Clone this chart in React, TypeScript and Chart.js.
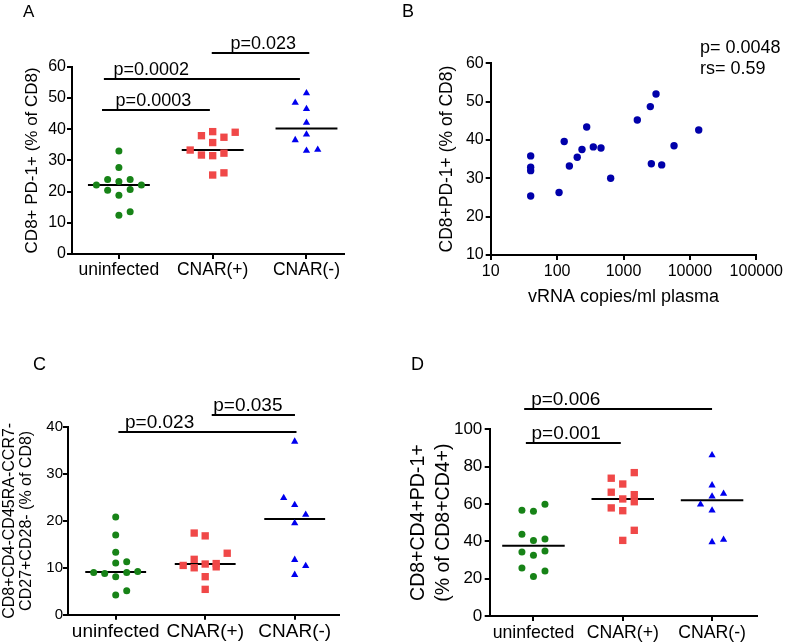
import React, { useEffect, useRef } from 'react';
import { Chart, registerables } from 'chart.js';

Chart.register(...registerables);

const W = 788;
const H = 644;
const FONT = '"Liberation Sans", Arial, Helvetica, sans-serif';

// ---------- shared ----------
const categories = ['uninfected', 'CNAR(+)', 'CNAR(-)'];

// ---------- panel A: CD8+ PD-1+ (% of CD8) ----------
const aUninfected = [33.0, 27.7, 23.9, 23.9, 23.2, 22.1, 22.1, 20.4, 20.7, 18.8, 12.4, 13.5];
const aUninfectedCol = [0, 0, -1, 1, 0, -2, 2, -1, 1, 0, 0, 1];
const aCnarPos = [37.9, 39.2, 37.4, 39.0, 35.7, 33.3, 31.7, 31.5, 32.3, 25.3, 26.0];
const aCnarPosCol = [-1, 0, 1, 2, 0, -2, -1, 0, 1, 0, 1];
const aCnarNeg = [51.5, 48.5, 46.5, 42.1, 38.3, 36.5, 33.1, 33.4];
const aCnarNegCol = [0, -1, 0, 0, 0, -1, 0, 1];
const aYTicks = { max: 60, step: 10 };
const aBrackets = [
  { from: -0.18, to: 0.97, y: 46.0, label: 'p=0.0003', labelAt: -0.035 },
  { from: -0.16, to: 1.93, y: 56.2, label: 'p=0.0002', labelAt: -0.057 },
  { from: 0.99, to: 2.03, y: 64.3, label: 'p=0.023', labelAt: 1.19 },
];

// ---------- panel B: correlation ----------
const bCopies = [40, 40, 40, 40, 107, 128, 153, 201, 237, 279, 351, 458, 641, 1614, 2535, 3090, 2625, 3760, 5770, 13580];
const bPd1 = [35.85, 32.9, 32.0, 25.4, 26.3, 39.6, 33.2, 35.5, 37.5, 43.4, 38.2, 37.9, 30.0, 45.2, 48.7, 52.0, 33.8, 33.5, 38.5, 42.6];
const bXTicks = [10, 100, 1000, 10000, 100000];
const bStats = ['p= 0.0048', 'rs= 0.59'];

// ---------- panel C: effector memory ----------
const cUninfected = [20.8, 17.0, 13.3, 11.0, 11.3, 9.0, 8.8, 8.1, 9.0, 9.2, 4.2, 5.1];
const cUninfectedCol = [0, 0, 0, 0, 1, -2, -1, 0, 1, 2, 0, 1];
const cCnarPos = [17.4, 16.8, 13.1, 11.8, 10.5, 10.0, 10.8, 10.9, 10.2, 8.1, 5.4];
const cCnarPosCol = [-1, 0, 2, -1, -2, -1, 0, 1, 1, 0, 0];
const cCnarNeg = [36.9, 24.9, 23.4, 21.3, 19.5, 11.7, 10.4, 8.5];
const cCnarNegCol = [0, -1, 0, 1, 0, 0, 1, 0];
const cYTicks = { max: 40, step: 10 };
const cBrackets = [
  { from: 0.03, to: 2.02, y: 38.9, label: 'p=0.023', labelAt: 0.104 },
  { from: 1.073, to: 2.003, y: 42.6, label: 'p=0.035', labelAt: 1.09 },
];

// ---------- panel D: CD8+CD4+PD-1+ ----------
const dUninfected = [56.6, 56.1, 59.8, 43.8, 40.5, 41.3, 34.3, 32.5, 34.8, 25.7, 24.1, 21.1];
const dUninfectedCol = [-1, 0, 1, -1, 0, 1, -1, 0, 1, -1, 1, 0];
const dCnarPos = [76.8, 73.8, 70.7, 66.3, 65.0, 62.7, 61.2, 57.9, 56.4, 45.9, 40.5];
const dCnarPosCol = [1, -1, 0, -1, 1, 0, 1, -1, 0, 1, 0];
const dCnarNeg = [86.1, 70.0, 64.1, 65.5, 59.8, 56.6, 39.6, 40.9];
const dCnarNegCol = [0, 0, 0, 1, -1, 0, 0, 1];
const dYTicks = { max: 100, step: 20 };
const dBrackets = [
  { from: -0.085, to: 0.978, y: 92.8, label: 'p=0.001', labelAt: -0.022 },
  { from: -0.104, to: 2.0, y: 110.7, label: 'p=0.006', labelAt: -0.026 },
];

// ---------- styles ----------
const GREEN = '#178317';
const RED = '#f04848';
const BLUE = '#0000ee';
const NAVY = '#0000aa';
const TICK_LEN = 5;

function median(v: number[]) {
  const s = [...v].sort((a, b) => a - b);
  const n = s.length;
  return n % 2 ? s[(n - 1) / 2] : (s[n / 2 - 1] + s[n / 2]) / 2;
}

function axisCommon() {
  return {
    grid: { drawOnChartArea: false, drawTicks: true, tickLength: TICK_LEN, color: '#000', lineWidth: 2 },
    border: { display: true, color: '#000', width: 2 },
  };
}

function textPlugin(draw: (chart: any, ctx: CanvasRenderingContext2D) => void) {
  return {
    id: 'annot',
    afterDraw(chart: any) {
      const ctx = chart.ctx;
      ctx.save();
      ctx.fillStyle = '#000';
      ctx.strokeStyle = '#000';
      draw(chart, ctx);
      ctx.restore();
    },
  };
}

function dotConfig(p: any) {
  const { area, panelLeft, xH } = p;
  const datasets: any[] = [];
  p.groups.forEach((g: any, i: number) => {
    datasets.push({
      data: g.values.map((v: number, k: number) => ({ x: i + g.cols[k] * p.jitter, y: v })),
      pointStyle: g.style,
      pointRadius: g.radius,
      backgroundColor: g.color,
      borderWidth: 0,
      clip: false,
    });
    const m = median(g.values);
    datasets.push({
      data: [{ x: i - p.medianHalf, y: m }, { x: i + p.medianHalf, y: m }],
      showLine: true,
      borderColor: '#000',
      borderWidth: 2,
      pointRadius: 0,
      clip: false,
    });
  });
  const yW = area.l - panelLeft;
  return {
    type: 'scatter',
    data: { datasets },
    plugins: [
      textPlugin((chart, ctx) => {
        const xs = chart.scales.x;
        const ys = chart.scales.y;
        ctx.lineWidth = 2;
        ctx.font = `${p.bracketSize}px ${FONT}`;
        ctx.textAlign = 'left';
        ctx.textBaseline = 'alphabetic';
        p.brackets.forEach((b: any) => {
          const y = Math.round(ys.getPixelForValue(b.y));
          ctx.beginPath();
          ctx.moveTo(xs.getPixelForValue(b.from), y);
          ctx.lineTo(xs.getPixelForValue(b.to), y);
          ctx.stroke();
          ctx.fillText(b.label, xs.getPixelForValue(b.labelAt), y - 4);
        });
        ctx.font = `${p.letterSize}px ${FONT}`;
        ctx.fillText(p.letter, p.letterX, p.letterY);
      }),
    ],
    options: {
      animation: false,
      responsive: false,
      devicePixelRatio: 1,
      events: [],
      layout: { padding: { left: panelLeft, top: area.t, right: W - area.r, bottom: H - area.b - xH } },
      plugins: { legend: { display: false }, tooltip: { enabled: false } },
      scales: {
        x: {
          type: 'linear',
          min: p.xMin,
          max: p.xMax,
          ...axisCommon(),
          afterBuildTicks: (s: any) => {
            s.ticks = categories.map((_, i) => ({ value: i }));
          },
          afterFit: (s: any) => {
            s.height = xH;
          },
          ticks: {
            callback: (v: number) => categories[v],
            font: { family: FONT, size: p.xTickSize },
            color: '#000',
            padding: p.xTickPad,
            maxRotation: 0,
            autoSkip: false,
          },
        },
        y: {
          type: 'linear',
          min: 0,
          max: p.yMax,
          ...axisCommon(),
          afterFit: (s: any) => {
            s.width = yW;
          },
          ticks: {
            stepSize: p.yStep,
            font: { family: FONT, size: p.yTickSize },
            color: '#000',
            padding: p.yTickPad,
          },
          title: {
            display: true,
            text: p.yTitle,
            color: '#000',
            font: { family: FONT, size: p.yTitleSize, lineHeight: p.yTitleLH },
            padding: { top: p.yTitleFirstCenter - panelLeft - (p.yTitleSize * p.yTitleLH) / 2, bottom: 0 },
          },
        },
      },
    },
  };
}

function scatterConfig() {
  const area = { l: 490.7, t: 63.3, r: 756.3, b: 255 };
  const panelLeft = 394;
  const xH = 60;
  return {
    type: 'scatter',
    data: {
      datasets: [
        {
          data: bCopies.map((c, i) => ({ x: c, y: bPd1[i] })),
          pointStyle: 'circle',
          pointRadius: 3.7,
          backgroundColor: NAVY,
          borderWidth: 0,
          clip: false,
        },
      ],
    },
    plugins: [
      textPlugin((chart, ctx) => {
        ctx.font = `18px ${FONT}`;
        ctx.textAlign = 'left';
        ctx.textBaseline = 'alphabetic';
        ctx.fillText(bStats[0], 700, 53.3);
        ctx.fillText(bStats[1], 700, 74.3);
        ctx.fillText('B', 402, 17);
      }),
    ],
    options: {
      animation: false,
      responsive: false,
      devicePixelRatio: 1,
      events: [],
      layout: { padding: { left: panelLeft, top: area.t, right: W - area.r, bottom: H - area.b - xH } },
      plugins: { legend: { display: false }, tooltip: { enabled: false } },
      scales: {
        x: {
          type: 'logarithmic',
          min: 10,
          max: 100000,
          ...axisCommon(),
          afterBuildTicks: (s: any) => {
            s.ticks = bXTicks.map((v) => ({ value: v }));
          },
          afterFit: (s: any) => {
            s.height = xH;
          },
          ticks: {
            callback: (v: number) => String(v),
            font: { family: FONT, size: 16 },
            color: '#000',
            padding: 2,
            maxRotation: 0,
            autoSkip: false,
          },
          title: {
            display: true,
            text: 'vRNA copies/ml plasma',
            color: '#000',
            font: { family: FONT, size: 18 },
            padding: { top: 0, bottom: area.b + xH - 296.7 - 10.8 },
          },
        },
        y: {
          type: 'linear',
          min: 10,
          max: 60,
          ...axisCommon(),
          afterFit: (s: any) => {
            s.width = area.l - panelLeft;
          },
          ticks: { stepSize: 10, font: { family: FONT, size: 16 }, color: '#000', padding: 2 },
          title: {
            display: true,
            text: 'CD8+PD-1+ (% of CD8)',
            color: '#000',
            font: { family: FONT, size: 17.5 },
            padding: { top: 447.3 - panelLeft - 10.5, bottom: 0 },
          },
        },
      },
    },
  };
}

const configs = [
  () =>
    dotConfig({
      groups: [
        { values: aUninfected, cols: aUninfectedCol, style: 'circle', color: GREEN, radius: 3.5 },
        { values: aCnarPos, cols: aCnarPosCol, style: 'rect', color: RED, radius: 5.2 },
        { values: aCnarNeg, cols: aCnarNegCol, style: 'triangle', color: BLUE, radius: 4.2 },
      ],
      area: { l: 72, t: 66.7, r: 344, b: 254 },
      panelLeft: 0,
      xH: 40,
      xMin: -0.5,
      xMax: 2.4,
      yMax: aYTicks.max,
      yStep: aYTicks.step,
      jitter: 0.12,
      medianHalf: 0.33,
      yTitle: 'CD8+ PD-1+ (% of CD8)',
      yTitleSize: 17,
      yTitleLH: 1.2,
      yTitleFirstCenter: 32,
      yTickSize: 16,
      yTickPad: 1,
      xTickSize: 17.5,
      xTickPad: 1,
      brackets: aBrackets,
      bracketSize: 18,
      letter: 'A',
      letterSize: 17,
      letterX: 23,
      letterY: 17,
    }),
  scatterConfig,
  () =>
    dotConfig({
      groups: [
        { values: cUninfected, cols: cUninfectedCol, style: 'circle', color: GREEN, radius: 3.5 },
        { values: cCnarPos, cols: cCnarPosCol, style: 'rect', color: RED, radius: 5.2 },
        { values: cCnarNeg, cols: cCnarNegCol, style: 'triangle', color: BLUE, radius: 4.2 },
      ],
      area: { l: 68, t: 427, r: 339, b: 614.7 },
      panelLeft: 0,
      xH: 29,
      xMin: -0.533,
      xMax: 2.495,
      yMax: cYTicks.max,
      yStep: cYTicks.step,
      jitter: 0.123,
      medianHalf: 0.34,
      yTitle: ['CD8+CD4-CD45RA-CCR7-', 'CD27+CD28- (% of CD8)'],
      yTitleSize: 16,
      yTitleLH: 1.04,
      yTitleFirstCenter: 10,
      yTickSize: 15,
      yTickPad: 0,
      xTickSize: 19,
      xTickPad: 1,
      brackets: cBrackets,
      bracketSize: 19,
      letter: 'C',
      letterSize: 18,
      letterX: 33,
      letterY: 370,
    }),
  () =>
    dotConfig({
      groups: [
        { values: dUninfected, cols: dUninfectedCol, style: 'circle', color: GREEN, radius: 3.5 },
        { values: dCnarPos, cols: dCnarPosCol, style: 'rect', color: RED, radius: 5.2 },
        { values: dCnarNeg, cols: dCnarNegCol, style: 'triangle', color: BLUE, radius: 4.2 },
      ],
      area: { l: 489.7, t: 429.3, r: 756.7, b: 616 },
      panelLeft: 394,
      xH: 28,
      xMin: -0.49,
      xMax: 2.5,
      yMax: dYTicks.max,
      yStep: dYTicks.step,
      jitter: 0.129,
      medianHalf: 0.35,
      yTitle: ['CD8+CD4+PD-1+', '(% of CD8+CD4+)'],
      yTitleSize: 19.5,
      yTitleLH: 1.28,
      yTitleFirstCenter: 419,
      yTickSize: 17,
      yTickPad: 2.4,
      xTickSize: 17.7,
      xTickPad: 1,
      brackets: dBrackets,
      bracketSize: 19,
      letter: 'D',
      letterSize: 18,
      letterX: 411,
      letterY: 370,
    }),
];

function Panel({ make }: { make: () => any }) {
  const ref = useRef<HTMLCanvasElement>(null);
  useEffect(() => {
    const chart = new Chart(ref.current as HTMLCanvasElement, make());
    return () => chart.destroy();
  }, [make]);
  return (
    <canvas
      ref={ref}
      width={W}
      height={H}
      style={{ position: 'absolute', left: 0, top: 0, width: W, height: H }}
    />
  );
}

export default function App() {
  return (
    <div style={{ position: 'absolute', left: 0, top: 0, width: W, height: H, background: '#fff', overflow: 'hidden' }}>
      {configs.map((make, i) => (
        <Panel key={i} make={make} />
      ))}
    </div>
  );
}
